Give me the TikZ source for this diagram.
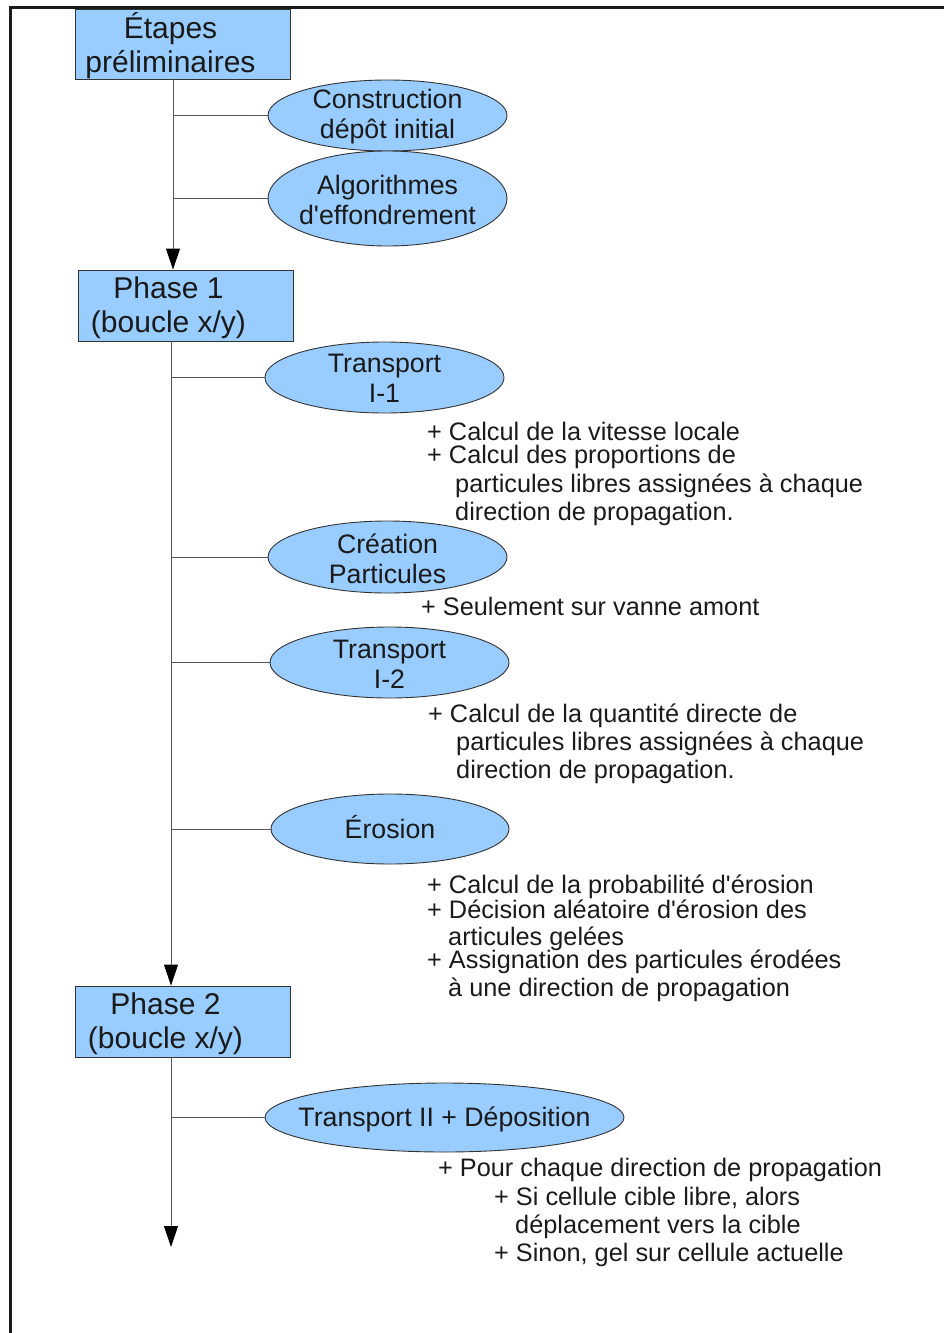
\documentclass[tikz,border=0pt]{standalone}
\usepackage{fontspec}
\setmainfont{Liberation Sans}
\usetikzlibrary{shapes.geometric,arrows.meta}
\definecolor{skyfill}{HTML}{99CCFF}
\definecolor{edgegray}{HTML}{333333}
\definecolor{linkgray}{HTML}{555555}
\definecolor{inkgray}{HTML}{1A1A1A}

\begin{document}
\begin{tikzpicture}[
    x=1pt, y=-1pt,
    phase/.style={draw=edgegray, fill=skyfill, line width=0.9pt, inner sep=0pt,
                  minimum width=215pt, minimum height=71pt},
    task/.style={ellipse, draw=edgegray, fill=skyfill, line width=0.9pt, inner sep=0pt},
    phasetext/.style={align=center, inner sep=0pt, text=inkgray,
                      font=\fontsize{30}{34}\selectfont},
    tasktext/.style={align=center, inner sep=0pt, text=inkgray,
                     font=\fontsize{26.7}{30}\selectfont},
    note/.style={anchor=base west, inner sep=0pt, text=inkgray,
                 font=\fontsize{25.3}{28}\selectfont},
    trunk/.style={draw=linkgray, line width=1pt,
                  -{Triangle[length=21pt, width=14pt, color=black]}},
    branch/.style={draw=linkgray, line width=1pt},
    frame/.style={draw=inkgray, line width=3pt},
  ]
  \useasboundingbox (0,0) rectangle (944,1333);
  \draw[frame] (10,1333) -- (10,7) -- (944,7);

  % phases
  \node[phase, minimum height=70pt] (prelim) at (182.5,44) {};
  \node[phasetext] (prelimtxt) at ([shift={(-12pt,-2pt)}]prelim.center) {Étapes\\préliminaires};
  \node[phase] (phase1) at (185.5,305.5) {};
  \node[phasetext] (phase1txt) at ([shift={(-17pt,-2.5pt)}]phase1.center) {Phase 1\\(boucle x/y)};
  \node[phase] (phase2) at (182.5,1021.5) {};
  \node[phasetext] (phase2txt) at ([shift={(-17pt,-2.5pt)}]phase2.center) {Phase 2\\(boucle x/y)};

  % tasks
  \node[task, minimum width=239pt, minimum height=71pt] (depot) at (387.5,115.5) {};
  \node[tasktext] (depottxt) at ([yshift=-1.5pt]depot.center) {Construction\\dépôt initial};
  \node[task, minimum width=239pt, minimum height=95pt] (effond) at (387.5,198.5) {};
  \node[tasktext] (effondtxt) at ([yshift=-1.5pt]effond.center) {Algorithmes\\d\textquotesingle effondrement};
  \node[task, minimum width=239pt, minimum height=71pt] (transA) at (384.5,377.5) {};
  \node[tasktext] (transAtxt) at ([yshift=-1pt]transA.center) {Transport\\I-1};
  \node[task, minimum width=239pt, minimum height=72pt] (creation) at (387.5,557) {};
  \node[tasktext] (creationtxt) at ([yshift=-1.5pt]creation.center) {Création\\Particules};
  \node[task, minimum width=239pt, minimum height=71pt] (transB) at (389.5,662.5) {};
  \node[tasktext] (transBtxt) at ([yshift=-1.5pt]transB.center) {Transport\\I-2};
  \node[task, minimum width=238pt, minimum height=70pt] (erosion) at (390,829) {};
  \node[tasktext] (erosiontxt) at ([yshift=2pt]erosion.center) {Érosion};
  \node[task, minimum width=359pt, minimum height=69pt] (transC) at (444.5,1117.5) {};
  \node[tasktext] (transCtxt) at ([yshift=-2pt]transC.center) {Transport II + Déposition};

  % trunks and branches
  \coordinate (spineA) at (173,0);
  \coordinate (spineB) at (171,0);
  \coordinate (fin) at (171,1247);
  \draw[trunk] (prelim.south -| spineA) -- (phase1.north -| spineA);
  \draw[trunk] (phase1.south -| spineB) -- (phase2.north -| spineB);
  \draw[trunk] (phase2.south -| spineB) -- (fin);
  \draw[branch] (depot.west -| spineA) -- (depot.west);
  \draw[branch] (effond.west -| spineA) -- (effond.west);
  \foreach \t in {transA, creation, transB, erosion, transC}
    \draw[branch] (\t.west -| spineB) -- (\t.west);

  % notes
  \node[note] (vitesse) at (427,440) {+ Calcul de la vitesse locale};
  \node[note] (propA) at (427,463) {+ Calcul des proportions de};
  \node[note] (propB) at (455,492) {particules libres assignées à chaque};
  \node[note] (propC) at (455,520) {direction de propagation.};
  \node[note] (vanne) at (421,615) {+ Seulement sur vanne amont};
  \node[note] (quantA) at (428,722) {+ Calcul de la quantité directe de};
  \node[note] (quantB) at (456,750) {particules libres assignées à chaque};
  \node[note] (quantC) at (456,778) {direction de propagation.};
  \node[note] (probab) at (427,893) {+ Calcul de la probabilité d\textquotesingle érosion};
  \node[note] (decisA) at (427,918) {+ Décision aléatoire d\textquotesingle érosion des};
  \node[note] (decisB) at (448,945) {articules gelées};
  \node[note] (assigA) at (427,968) {+ Assignation des particules érodées};
  \node[note] (assigB) at (448,996) {à une direction de propagation};
  \node[note] (chaque) at (438,1176) {+ Pour chaque direction de propagation};
  \node[note] (libreA) at (494,1205) {+ Si cellule cible libre, alors};
  \node[note] (libreB) at (515,1233) {déplacement vers la cible};
  \node[note] (sinon) at (494,1261) {+ Sinon, gel sur cellule actuelle};
\end{tikzpicture}
\end{document}
